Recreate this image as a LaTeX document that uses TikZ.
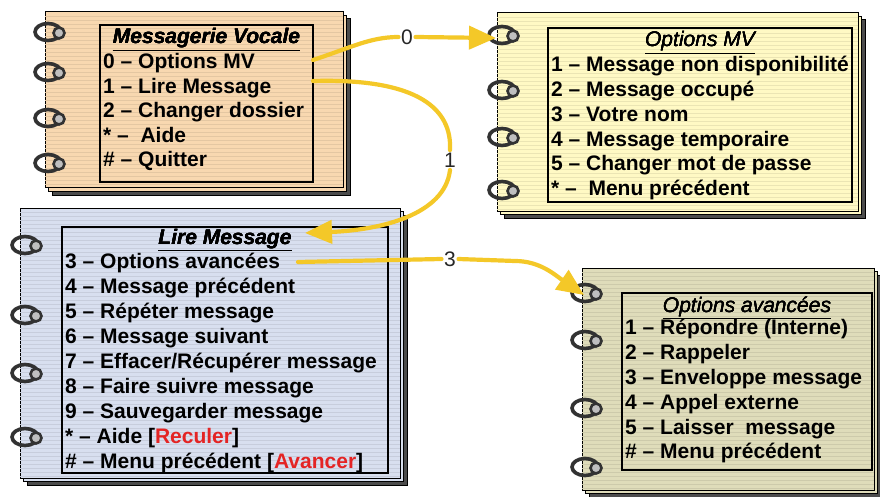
\documentclass[tikz,border=0pt]{standalone}
\usepackage{fontspec}
\setmainfont{Liberation Sans}
\usetikzlibrary{arrows.meta}
\definecolor{peachpad}{RGB}{248,216,176}
\definecolor{yellowpad}{RGB}{255,249,196}
\definecolor{bluepad}{RGB}{216,223,239}
\definecolor{khakipad}{RGB}{223,220,186}
\definecolor{flowgold}{RGB}{244,200,40}
\definecolor{ringgray}{RGB}{50,50,50}
\definecolor{hotred}{RGB}{228,36,36}

% one ruled notepad: x1, y1, x2, y2, colour
\newcommand{\drawpad}[5]{%
  \draw[fill=black!70, line width=1pt] (#1+7,#2+7) rectangle (#3+7,#4+7);
  \draw[fill=#5, line width=1pt] (#1+3.5,#2+3.5) rectangle (#3+3.5,#4+3.5);
  \draw[fill=#5, line width=1pt] (#1,#2) rectangle (#3,#4);
  \begin{scope}
    \clip (#1,#2) rectangle (#3,#4);
    \foreach \k in {1,...,72}
      \draw[#5!92!black, line width=0.5pt] (#1,#2+4*\k) -- (#3,#2+4*\k);
  \end{scope}
}
% one spiral ring at x, y
\newcommand{\ringat}[2]{%
  \draw[ring] (#1-2,#2) ellipse (13 and 8.5);
  \draw[ringgray, line width=2.6pt, fill=black!25] (#1+9,#2+1) circle (5.5);
}

\begin{document}
\begin{tikzpicture}[x=1pt, y=-1pt,
    item/.style={anchor=base west, inner sep=0pt, font=\fontsize{21}{25}\selectfont\bfseries},
    titlebf/.style={anchor=base, inner sep=0pt, font=\fontsize{21}{25}\selectfont\bfseries\itshape},
    titlert/.style={anchor=base, inner sep=0pt, font=\fontsize{21}{25}\selectfont\itshape},
    flowlabel/.style={inner sep=2.5pt, font=\fontsize{21}{25}\selectfont, text=black!85},
    flow/.style={draw=flowgold, line width=4.2pt, line cap=round},
    flowarrow/.style={flow, -{Triangle[length=27pt,width=23pt]}},
    ring/.style={draw=ringgray, line width=3.6pt}]
  \fill[white] (0,0) rectangle (880,497);
  \useasboundingbox (0,0) rectangle (880,497);

  % Messagerie Vocale
  \drawpad{45}{12}{343}{188}{peachpad}
  \draw[line width=1.6pt] (100,25) rectangle (313,182);
  \foreach \y in {32,72,118,163}
    \ringat{50}{\y}
  \node[titlebf] (mvtitle) at (206.5,44) {\underline{Messagerie Vocale}};
  \foreach \t [count=\i] in {{0 – Options MV},{1 – Lire Message},{2 – Changer dossier},{* – \ Aide},{\# – Quitter}}
    \node[item] (mv\i) at (103,44+24.6*\i) {\t};

  % Options MV
  \drawpad{497}{13}{858}{211}{yellowpad}
  \draw[line width=1.6pt] (548,28) rectangle (852,202);
  \foreach \y in {35,90,137,190}
    \ringat{504}{\y}
  \node[titlert] (omvtitle) at (700,47) {\underline{Options MV}};
  \foreach \t [count=\i] in {{1 – Message non disponibilité},{2 – Message occupé},{3 – Votre nom},{4 – Message temporaire},{5 – Changer mot de passe},{* – \ Menu précédent}}
    \node[item] (omv\i) at (551,47+24.8*\i) {\t};

  % Lire Message
  \drawpad{20}{208}{400}{478}{bluepad}
  \draw[line width=1.6pt] (62,227) rectangle (388,473);
  \foreach \y in {245,315,373,437}
    \ringat{27}{\y}
  \node[titlebf] (lmtitle) at (225,244) {\underline{Lire Message}};
  \foreach \t [count=\i] in {{3 – Options avancées},{4 – Message précédent},{5 – Répéter message},{6 – Message suivant},{7 – Effacer/Récupérer message},{8 – Faire suivre message},{9 – Sauvegarder message},{* – Aide [\textcolor{hotred}{Reculer}]},{\# – Menu précédent [\textcolor{hotred}{Avancer}]}}
    \node[item] (lm\i) at (65,244+24.9*\i) {\t};

  % Options avancées
  \drawpad{582}{268}{874}{490}{khakipad}
  \draw[line width=1.6pt] (622,293) rectangle (872,470);
  \foreach \y in {293,340,408,467}
    \ringat{587}{\y}
  \node[titlert] (oatitle) at (747,312) {\underline{Options avancées}};
  \foreach \t [count=\i] in {{1 – Répondre (Interne)},{2 – Rappeler},{3 – Enveloppe message},{4 – Appel externe},{5 – Laisser \ message},{\# – Menu précédent}}
    \node[item] (oa\i) at (625,310+24.8*\i) {\t};

  % connectors
  \coordinate (mvout0) at (313,60);
  \coordinate (mvout1) at (313,81);
  \coordinate (omvin) at (496,38);
  \coordinate (lmin) at (305,233);
  \coordinate (lmout3) at (298,262);
  \coordinate (oain) at (584,295);
  \node[flowlabel] (lbl0) at (407,37) {0};
  \node[flowlabel] (lbl1) at (450,160) {1};
  \node[flowlabel] (lbl3) at (450,259) {3};
  \draw[flow] (mvout0) .. controls (350,48) and (370,37) .. (lbl0.west);
  \draw[flowarrow] (lbl0.east) -- (omvin);
  \draw[flow] (mvout1) .. controls (420,78) and (452,110) .. (lbl1.north);
  \draw[flowarrow] (lbl1.south) .. controls (445,215) and (380,230) .. (lmin);
  \draw[flow] (lmout3) -- (lbl3.west);
  \draw[flowarrow] (lbl3.east) -- (515,261) .. controls (540,261) and (555,275) .. (oain);
\end{tikzpicture}
\end{document}
